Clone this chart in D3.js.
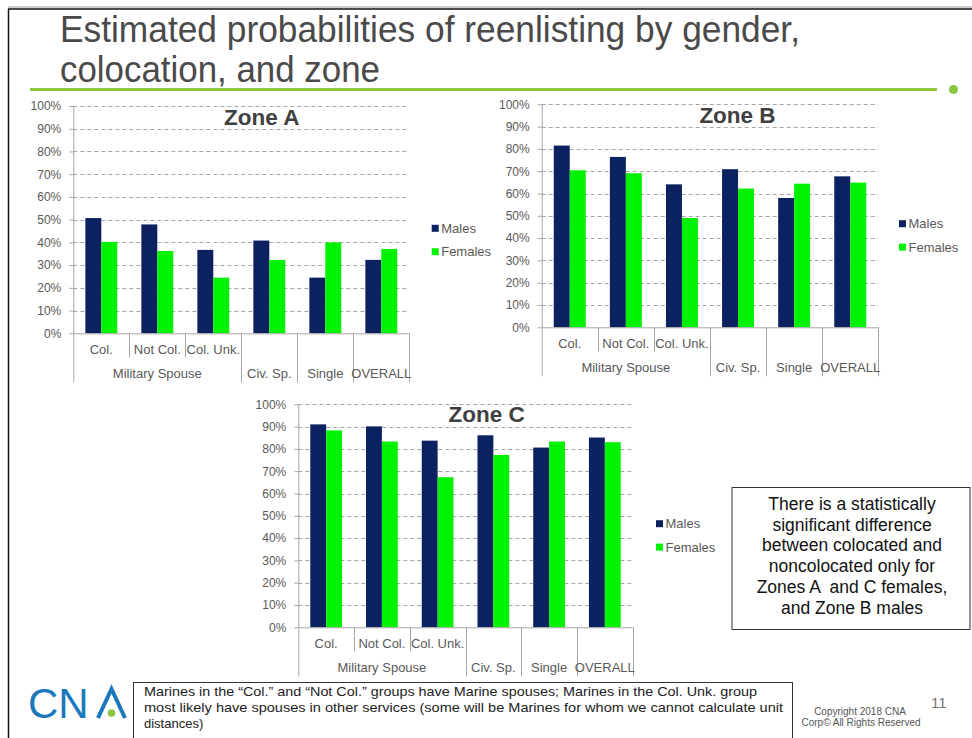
<!DOCTYPE html>
<html>
<head>
<meta charset="utf-8">
<script src="https://cdn.jsdelivr.net/npm/d3@7/dist/d3.min.js"></script>
<style>
  html, body { margin: 0; padding: 0; background: #fff; }
  svg { display: block; font-family: "Liberation Sans", Arial, sans-serif; }
</style>
</head>
<body>
<svg id="chart" width="972" height="738"></svg>
<script>
// ---------- DATA ----------
const subLabels = ["Col.", "Not Col.", "Col. Unk.", "", "", ""];
const groupLabels = ["Military Spouse", "Military Spouse", "Military Spouse", "Civ. Sp.", "Single", "OVERALL"];
const seriesNames = ["Males", "Females"];
const zoneAMales   = [50.7, 47.9, 36.7, 40.8, 24.5, 32.3];
const zoneAFemales = [40.2, 36.2, 24.5, 32.3, 40.0, 37.1];
const zoneBMales   = [81.5, 76.4, 64.1, 70.9, 58.0, 67.7];
const zoneBFemales = [70.4, 69.1, 49.0, 62.2, 64.4, 64.9];
const zoneCMales   = [91.0, 90.1, 83.7, 86.1, 80.6, 85.1];
const zoneCFemales = [88.3, 83.3, 67.3, 77.3, 83.3, 83.0];
const yTicks = [0, 10, 20, 30, 40, 50, 60, 70, 80, 90, 100];
const titleLines = ["Estimated probabilities of reenlisting by gender,", "colocation, and zone"];
const noteLines = [
  "Marines in the \u201CCol.\u201D and \u201CNot Col.\u201D groups have Marine spouses; Marines in the Col. Unk. group",
  "most likely have spouses in other services (some will be Marines for whom we cannot calculate unit",
  "distances)"
];
const statementLines = [
  "There is a statistically",
  "significant difference",
  "between colocated and",
  "noncolocated only for",
  "Zones A  and C females,",
  "and Zone B males"
];

// ---------- STYLE ----------
const colors = { Males: "#0c2160", Females: "#00f200" };
const axisColor = "#a6a6a6";
const textGray = "#595959";

const svg = d3.select("#chart");

// Slide frame
svg.append("line").attr("x1", 8).attr("y1", 7).attr("x2", 972).attr("y2", 7).attr("stroke", "#999").attr("stroke-width", 1);
svg.append("line").attr("x1", 8).attr("y1", 9).attr("x2", 972).attr("y2", 9).attr("stroke", "#111").attr("stroke-width", 1.5);
svg.append("line").attr("x1", 8.5).attr("y1", 9).attr("x2", 8.5).attr("y2", 738).attr("stroke", "#111").attr("stroke-width", 1.5);

// Title
const titleG = svg.append("g").attr("fill", "#4a4a4a")
  .style("font-family", "'Liberation Sans Narrow', 'Liberation Sans', Arial, sans-serif")
  .style("font-size", "37px");
const titleWidths = [740, 320];
titleLines.forEach((t, i) => {
  titleG.append("text").attr("x", 60).attr("y", 42 + i * 40)
    .attr("textLength", titleWidths[i]).attr("lengthAdjust", "spacingAndGlyphs")
    .text(t);
});
svg.append("line").attr("x1", 30).attr("y1", 89.5).attr("x2", 937).attr("y2", 89.5)
  .attr("stroke", "#8cc63f").attr("stroke-width", 3);
svg.append("circle").attr("cx", 953.5).attr("cy", 89.5).attr("r", 4.5).attr("fill", "#8cc63f");

// ---------- PANELS ----------
function drawPanel(cfg) {
  const { x0, x1, yTop, y0, title, titleX, titleY, males, females, legendX, legendY } = cfg;
  const g = svg.append("g");
  const x = d3.scaleBand().domain(d3.range(subLabels.length)).range([x0, x1]).paddingInner(0).paddingOuter(0);
  const bw = x.bandwidth() * 0.285;
  const xs = d3.scaleBand().domain(seriesNames).range([x.bandwidth() / 2 - bw, x.bandwidth() / 2 + bw]);
  const y = d3.scaleLinear().domain([0, 100]).range([y0, yTop]);

  // gridlines
  g.append("g").selectAll("line").data(yTicks.filter(d => d > 0)).join("line")
    .attr("x1", x0).attr("x2", x1)
    .attr("y1", d => Math.round(y(d)) + 0.5).attr("y2", d => Math.round(y(d)) + 0.5)
    .attr("stroke", axisColor).attr("stroke-width", 1).attr("stroke-dasharray", "4,3");

  // y axis
  const yAxis = d3.axisLeft(y).tickValues(yTicks).tickFormat(d => d + "%").tickSize(4).tickPadding(8);
  const ya = g.append("g").attr("transform", `translate(${x0},0)`).call(yAxis);
  ya.select(".domain").remove();
  ya.selectAll(".tick line").attr("stroke", axisColor);
  ya.selectAll(".tick text").attr("fill", textGray).style("font-size", "12px")
    .style("font-family", "'Liberation Sans', Arial, sans-serif");

  // bars
  const rows = d3.range(subLabels.length).map(i => ({ i, Males: males[i], Females: females[i] }));
  const bg = g.append("g").selectAll("g").data(rows).join("g")
    .attr("transform", d => `translate(${x(d.i)},0)`);
  bg.selectAll("rect").data(d => seriesNames.map(s => ({ s, v: d[s] }))).join("rect")
    .attr("x", d => xs(d.s)).attr("width", xs.bandwidth())
    .attr("y", d => y(d.v)).attr("height", d => y(0) - y(d.v))
    .attr("fill", d => colors[d.s]);

  // axis lines and dividers
  const lines = g.append("g").attr("stroke", axisColor).attr("stroke-width", 1);
  lines.append("line").attr("x1", x0).attr("x2", x1).attr("y1", y0 + 0.5).attr("y2", y0 + 0.5);
  lines.append("line").attr("x1", x0 + 0.5).attr("x2", x0 + 0.5).attr("y1", yTop).attr("y2", y0 + 49);
  const bounds = d3.range(1, subLabels.length + 1);
  bounds.forEach(k => {
    const bx = k < subLabels.length ? x(k) : x1;
    const sameGroup = k < subLabels.length && groupLabels[k] === groupLabels[k - 1];
    lines.append("line").attr("x1", Math.round(bx) + 0.5).attr("x2", Math.round(bx) + 0.5)
      .attr("y1", y0).attr("y2", y0 + (sameGroup ? 24 : 49));
  });

  // category labels
  const lab = g.append("g").attr("fill", textGray).style("font-size", "13px").attr("text-anchor", "middle");
  subLabels.forEach((t, i) => {
    if (t) lab.append("text").attr("x", x(i) + x.bandwidth() / 2).attr("y", y0 + 21).text(t);
  });
  const groups = [];
  groupLabels.forEach((t, i) => {
    if (groups.length && groups[groups.length - 1].label === t) groups[groups.length - 1].end = i;
    else groups.push({ label: t, start: i, end: i });
  });
  groups.forEach(gr => {
    const cx = (x(gr.start) + x(gr.end) + x.bandwidth()) / 2;
    lab.append("text").attr("x", cx).attr("y", y0 + 45).text(gr.label);
  });

  // title
  g.append("text").attr("x", titleX).attr("y", titleY).attr("text-anchor", "middle")
    .attr("fill", "#404040").style("font-size", "22.5px").style("font-weight", "bold").text(title);

  // legend
  const lg = g.append("g").attr("transform", `translate(${legendX},${legendY})`);
  seriesNames.forEach((s, i) => {
    lg.append("rect").attr("x", 0).attr("y", i * 23.4 - 3.5).attr("width", 7).attr("height", 7).attr("fill", colors[s]);
    lg.append("text").attr("x", 9.5).attr("y", i * 23.4 + 4.5).attr("fill", textGray)
      .style("font-size", "13px").text(s);
  });
}

drawPanel({ x0: 73.3, x1: 409.3, yTop: 106, y0: 333.3, title: "Zone A", titleX: 261.7, titleY: 125,
  males: zoneAMales, females: zoneAFemales, legendX: 431.7, legendY: 228.3 });
drawPanel({ x0: 541.7, x1: 878.3, yTop: 104.3, y0: 327.3, title: "Zone B", titleX: 737.5, titleY: 123.3,
  males: zoneBMales, females: zoneBFemales, legendX: 899, legendY: 223.7 });
drawPanel({ x0: 298.3, x1: 632.7, yTop: 404.3, y0: 627.3, title: "Zone C", titleX: 486.7, titleY: 422.3,
  males: zoneCMales, females: zoneCFemales, legendX: 656, legendY: 523.7 });

// Statement box
svg.append("rect").attr("x", 732).attr("y", 487.5).attr("width", 238).attr("height", 142)
  .attr("fill", "#fff").attr("stroke", "#333").attr("stroke-width", 1);
const st = svg.append("g").attr("fill", "#111").attr("text-anchor", "middle").style("font-size", "17.5px");
statementLines.forEach((t, i) => {
  st.append("text").attr("x", 852).attr("y", 510 + i * 20.7).style("white-space", "pre").attr("xml:space", "preserve").text(t);
});

// Footnote box
svg.append("rect").attr("x", 133.5).attr("y", 682.5).attr("width", 659).attr("height", 70)
  .attr("fill", "#fff").attr("stroke", "#333").attr("stroke-width", 1);
const noteWidths = [613, 639, null];
const nt = svg.append("g").attr("fill", "#222").style("font-size", "13px");
noteLines.forEach((t, i) => {
  const tx = nt.append("text").attr("x", 144).attr("y", 696 + i * 16).text(t);
  if (noteWidths[i]) tx.attr("textLength", noteWidths[i]).attr("lengthAdjust", "spacingAndGlyphs");
});

// Logo
const logoBlue = "#1b78bd";
svg.append("text").attr("x", 28).attr("y", 718).attr("fill", logoBlue)
  .style("font-size", "42px").text("CN");
svg.append("path").attr("d", "M98,718 L111.5,689 L125,718").attr("fill", "none")
  .attr("stroke", logoBlue).attr("stroke-width", 4).attr("stroke-linejoin", "miter");
svg.append("circle").attr("cx", 111.5).attr("cy", 713).attr("r", 3.8).attr("fill", "#8cc63f");

// Copyright & page number
const cp = svg.append("g").attr("fill", "#555").attr("text-anchor", "middle").style("font-size", "10px");
cp.append("text").attr("x", 860).attr("y", 715).text("Copyright 2018 CNA");
cp.append("text").attr("x", 861).attr("y", 726).text("Corp\u00A9 All Rights Reserved");
svg.append("text").attr("x", 931).attr("y", 708).attr("fill", "#777").style("font-size", "15px").text("11");
</script>
</body>
</html>
